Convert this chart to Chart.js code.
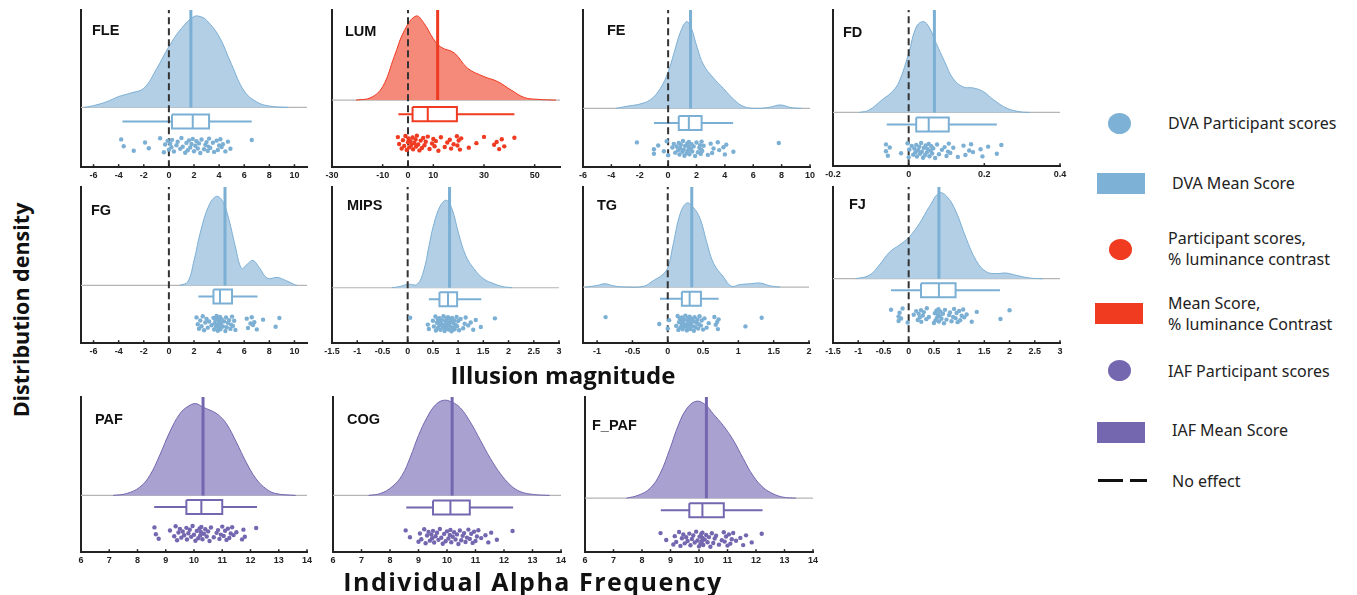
<!DOCTYPE html>
<html>
<head>
<meta charset="utf-8">
<script src="https://cdn.jsdelivr.net/npm/chart.js@4.4.1/dist/chart.umd.min.js"></script>
<style>
body { margin: 0; background: #fff; }
#wrap { position: relative; width: 1357px; height: 595px; overflow: hidden; font-family: "Liberation Sans", Arial, sans-serif; }
#wrap canvas { position: absolute; }
.lab { position: absolute; font-weight: bold; font-size: 14.5px; line-height: 14px; color: #111; }
.ttl { position: absolute; font-family: "Open Sans", sans-serif; font-weight: 700; font-size: 21.5px; color: #111; white-space: nowrap; transform: translate(-50%, -50%); }
.lg { position: absolute; font-family: "Noto Sans", sans-serif; font-size: 16px; line-height: 21px; color: #222; white-space: nowrap; }
.sw { position: absolute; }
</style>
</head>
<body>
<div id="wrap"></div>
<script>
// jitter used to spread the participant dots vertically (0..1)
const JITTER = [0.12,0.55,0.83,0.31,0.67,0.05,0.92,0.44,0.21,0.76,0.38,0.61,0.15,0.88,0.49,0.27,0.71,0.03,0.58,0.95,0.34,0.8,0.18,0.63,0.41,0.09,0.86,0.52,0.24,0.69,0.37,0.97,0.13,0.74,0.46,0.29,0.84,0.57,0.07,0.65,0.33,0.9,0.2,0.78,0.5,0.11,0.6,0.42,0.87,0.26,0.7,0.16];

// FLE
const FLE_X = [-6.7,-6,-5,-4,-3.5,-3,-2,-1,0,1,2,2.5,3,4,5,6,7,8,9.5];
const FLE_D = [0,0.02,0.06,0.12,0.14,0.16,0.21,0.42,0.67,0.87,1,1,0.96,0.78,0.47,0.18,0.06,0.015,0];
const FLE_BOX = [-3.7,0.25,1.9,3.2,6.6];
const FLE_MEAN = 1.75;
const FLE_SCORES = [-3.8,-3.6,-2.8,-1.9,-1.6,-0.7,-0.4,-0.3,-0.1,0,0.1,0.2,0.25,0.4,0.6,0.7,0.9,1,1.1,1.3,1.4,1.5,1.6,1.7,1.8,1.9,2,2.1,2.2,2.3,2.4,2.5,2.6,2.8,2.9,3,3.1,3.15,3.2,3.3,3.5,3.6,3.8,3.9,4,4.1,4.2,4.3,4.5,4.7,4.9,6.6];
const FLE_TICKS = [-6,-4,-2,0,2,4,6,8,10];

// LUM
const LUM_X = [-20.5,-14.6,-10,-5.4,-1.4,3.2,6.4,10,13,18.3,23.5,30,35.4,40.7,46,51,58.4];
const LUM_D = [0,0.03,0.16,0.52,0.83,1,0.91,0.73,0.63,0.56,0.38,0.28,0.22,0.12,0.03,0.01,0];
const LUM_BOX = [-3.8,1.8,7.8,19.3,42];
const LUM_MEAN = 11.7;
const LUM_SCORES = [-4,-3.5,-2.5,-2,-1.5,-1,-0.5,0,0.2,0.5,1,1.3,1.8,2,2.5,3,3.2,3.5,4,4.5,5,5.5,6,6.5,7,7.8,8.5,9.5,10,10.5,11,12,13,14.5,15.5,16.5,17,18,19.3,19.5,20,20.5,21,24,27,30,34,35,36,37,38,42];
const LUM_TICKS = [-30,-10,0,10,30,50];

// FE
const FE_X = [-3.7,-2.7,-2,-1.25,-0.55,0,0.4,0.87,1.3,1.6,2.05,2.5,3.2,3.9,4.65,5.35,6.3,7.2,7.9,8.65,9.4];
const FE_D = [0,0.03,0.05,0.1,0.23,0.42,0.63,0.88,1,0.94,0.7,0.5,0.35,0.23,0.1,0.02,0,0.015,0.04,0.01,0];
const FE_BOX = [-1,0.75,1.46,2.36,4.58];
const FE_MEAN = 1.58;
const FE_SCORES = [-2.2,-1,-1,-0.7,-0.3,-0.1,0,0.3,0.4,0.5,0.6,0.7,0.75,0.8,0.85,0.9,1,1.05,1.1,1.15,1.2,1.3,1.35,1.4,1.45,1.46,1.5,1.6,1.65,1.7,1.8,1.9,2,2.1,2.2,2.25,2.3,2.33,2.36,2.4,2.5,2.8,3,3.1,3.2,3.5,3.6,3.9,4,4.1,4.6,7.8];
const FE_TICKS = [-6,-4,-2,0,2,4,6,8,10];

// FD
const FD_X = [-0.13,-0.105,-0.07,-0.043,-0.025,0,0.02,0.039,0.055,0.073,0.095,0.117,0.144,0.17,0.197,0.224,0.26,0.295,0.32];
const FD_D = [0,0.025,0.14,0.23,0.34,0.65,0.94,1,0.93,0.76,0.56,0.375,0.28,0.27,0.23,0.14,0.045,0.007,0];
const FD_BOX = [-0.058,0.02,0.053,0.106,0.233];
const FD_MEAN = 0.068;
const FD_SCORES = [-0.06,-0.06,-0.055,-0.05,-0.02,-0.003,0,0.002,0.008,0.012,0.015,0.018,0.02,0.022,0.025,0.028,0.03,0.033,0.035,0.038,0.04,0.043,0.045,0.048,0.05,0.053,0.055,0.058,0.06,0.062,0.065,0.07,0.075,0.08,0.088,0.095,0.1,0.104,0.106,0.11,0.118,0.13,0.145,0.15,0.16,0.165,0.17,0.19,0.195,0.21,0.233,0.245];
const FD_TICKS = [-0.2,0,0.2,0.4];

// FG
const FG_X = [0.85,1.5,2,2.55,3.2,3.8,4.3,4.8,5.3,5.8,6.25,6.7,7.2,7.85,8.65,9.3,10,10.2];
const FG_D = [0,0.04,0.28,0.62,0.9,1,0.94,0.73,0.43,0.19,0.24,0.28,0.2,0.08,0.09,0.056,0.01,0];
const FG_BOX = [2.35,3.55,4.07,5.03,7.06];
const FG_MEAN = 4.47;
const FG_SCORES = [2.2,2.3,2.4,2.5,2.6,2.7,2.8,2.9,3,3.1,3.2,3.4,3.55,3.6,3.65,3.7,3.75,3.8,3.85,3.9,3.95,4,4,4.02,4.05,4.07,4.1,4.15,4.2,4.3,4.4,4.5,4.55,4.6,4.7,4.8,4.9,4.95,5.03,5.1,5.2,5.3,6.2,6.3,6.5,6.6,6.7,6.8,7,7.5,8.5,8.8];
const FG_TICKS = [-6,-4,-2,0,2,4,6,8,10];

// MIPS
const MIPS_X = [-0.31,-0.15,0,0.19,0.32,0.42,0.52,0.65,0.77,0.88,1.01,1.15,1.31,1.51,1.71,1.87,2.07];
const MIPS_D = [0,0.015,0.04,0.04,0.2,0.47,0.73,0.94,1,0.9,0.62,0.37,0.22,0.1,0.046,0.015,0];
const MIPS_BOX = [0.42,0.63,0.8,0.98,1.46];
const MIPS_MEAN = 0.83;
const MIPS_SCORES = [0.05,0.4,0.42,0.5,0.52,0.55,0.56,0.58,0.6,0.6,0.62,0.63,0.63,0.65,0.66,0.68,0.7,0.71,0.72,0.73,0.75,0.76,0.77,0.78,0.79,0.8,0.81,0.82,0.84,0.85,0.86,0.87,0.88,0.9,0.91,0.92,0.93,0.95,0.97,0.98,1,1.02,1.05,1.1,1.13,1.15,1.2,1.25,1.3,1.35,1.45,1.73];
const MIPS_TICKS = [-1.5,-1,-0.5,0,0.5,1,1.5,2,2.5,3];

// TG
const TG_X = [-1.17,-1,-0.89,-0.77,-0.58,-0.34,-0.2,-0.085,0,0.08,0.175,0.27,0.36,0.46,0.55,0.65,0.79,0.9,1.02,1.17,1.31,1.45,1.59];
const TG_D = [0,0.02,0.04,0.015,0,0.01,0.08,0.14,0.23,0.52,0.87,1,0.95,0.81,0.54,0.28,0.12,0.01,0.03,0.04,0.048,0.015,0];
const TG_BOX = [-0.11,0.2,0.31,0.47,0.72];
const TG_MEAN = 0.34;
const TG_SCORES = [-0.88,-0.12,0,0.02,0.12,0.14,0.15,0.16,0.17,0.18,0.19,0.2,0.2,0.21,0.22,0.23,0.24,0.25,0.26,0.27,0.28,0.28,0.29,0.3,0.3,0.31,0.32,0.33,0.34,0.35,0.36,0.37,0.38,0.39,0.4,0.42,0.43,0.44,0.45,0.47,0.48,0.5,0.52,0.55,0.58,0.66,0.68,0.7,0.71,0.72,1.1,1.33];
const TG_TICKS = [-1,-0.5,0,0.5,1,1.5,2];

// FJ
const FJ_X = [-1.05,-0.78,-0.58,-0.38,-0.19,0,0.21,0.41,0.61,0.77,0.94,1.14,1.34,1.54,1.74,1.93,2.13,2.4,2.66];
const FJ_D = [0,0.04,0.16,0.31,0.39,0.48,0.64,0.84,1,0.95,0.78,0.47,0.21,0.08,0.06,0.066,0.04,0.008,0];
const FJ_BOX = [-0.35,0.245,0.6,0.93,1.81];
const FJ_MEAN = 0.6;
const FJ_SCORES = [-0.35,-0.2,-0.2,-0.18,-0.15,-0.12,-0.02,0.1,0.15,0.18,0.2,0.22,0.245,0.25,0.28,0.3,0.35,0.36,0.4,0.5,0.52,0.53,0.55,0.56,0.58,0.59,0.6,0.62,0.63,0.65,0.68,0.7,0.72,0.75,0.8,0.82,0.85,0.88,0.9,0.93,0.95,0.97,1,1.02,1.05,1.08,1.1,1.15,1.25,1.35,1.82,2];
const FJ_TICKS = [-1.5,-1,-0.5,0,0.5,1,1.5,2,2.5,3];

// PAF
const PAF_X = [7.14,7.61,8.08,8.44,8.79,9.14,9.5,9.79,10.06,10.32,10.56,10.85,11.15,11.5,11.85,12.2,12.56,12.9,13.6];
const PAF_D = [0,0.02,0.09,0.22,0.44,0.69,0.89,0.97,1,0.96,0.93,0.88,0.78,0.58,0.36,0.18,0.07,0.02,0];
const PAF_BOX = [8.59,9.73,10.26,11,12.23];
const PAF_MEAN = 10.32;
const PAF_SCORES = [8.6,8.65,8.75,9.15,9.3,9.35,9.4,9.45,9.5,9.55,9.6,9.65,9.73,9.75,9.8,9.85,9.9,9.95,10,10.05,10.1,10.15,10.2,10.22,10.24,10.26,10.3,10.35,10.4,10.45,10.5,10.55,10.6,10.7,10.8,10.85,10.9,10.95,11,11.05,11.1,11.15,11.2,11.25,11.3,11.35,11.4,11.5,11.7,11.75,11.8,12.2];

// COG
const COG_X = [7.25,7.66,8.07,8.42,8.71,9,9.3,9.59,9.88,10.18,10.47,10.82,11.17,11.52,11.87,12.22,12.57,13.04,13.6];
const COG_D = [0,0.02,0.09,0.21,0.4,0.63,0.82,0.95,1,0.98,0.92,0.77,0.58,0.39,0.23,0.11,0.04,0.01,0];
const COG_BOX = [8.57,9.51,10.12,10.8,12.32];
const COG_MEAN = 10.18;
const COG_SCORES = [8.55,8.7,9,9.05,9.1,9.2,9.25,9.3,9.35,9.4,9.45,9.48,9.51,9.55,9.6,9.65,9.7,9.75,9.8,9.85,9.9,9.95,10,10.05,10.1,10.12,10.15,10.2,10.25,10.3,10.35,10.4,10.45,10.5,10.55,10.6,10.65,10.7,10.75,10.8,10.85,10.9,10.95,11,11.05,11.1,11.2,11.35,11.45,11.55,11.75,12.3];

// F_PAF
const FPAF_X = [7.46,7.87,8.28,8.63,8.98,9.27,9.56,9.89,10.2,10.5,10.85,11.2,11.55,11.9,12.25,12.6,12.95,13.4];
const FPAF_D = [0,0.03,0.1,0.25,0.51,0.75,0.92,1,0.97,0.87,0.75,0.6,0.41,0.23,0.11,0.045,0.01,0];
const FPAF_BOX = [8.66,9.66,10.12,10.87,12.23];
const FPAF_MEAN = 10.26;
const FPAF_SCORES = [8.65,8.85,9.1,9.15,9.2,9.3,9.35,9.4,9.45,9.5,9.55,9.6,9.66,9.7,9.75,9.8,9.85,9.9,9.95,10,10.02,10.05,10.08,10.1,10.11,10.12,10.15,10.2,10.25,10.3,10.35,10.4,10.45,10.5,10.55,10.6,10.7,10.8,10.87,10.9,10.95,11,11.05,11.1,11.15,11.2,11.3,11.45,11.55,11.65,11.85,12.2];

const IAF_TICKS = [6,7,8,9,10,11,12,13,14];

const THEMES = {
  dva: { fill: '#b3cfe6', line: '#7bafd4' },
  lum: { fill: '#f58a7a', line: '#ef3b21' },
  iaf: { fill: '#a9a1d0', line: '#7467b0' }
};

// layout of every panel on the page (pixels)
const PANELS = [
  { name: 'FLE', dx: FLE_X, dy: FLE_D, box: FLE_BOX, mean: FLE_MEAN, scores: FLE_SCORES, ticks: FLE_TICKS, range: [-7, 11], theme: 'dva',
    left: 81, right: 307, top: 10, axis: 167, base: 107.3, peak: 90.7, boxOff: 7, dotOff: 30, zero: true, lx: 92, ly: 23 },
  { name: 'LUM', dx: LUM_X, dy: LUM_D, box: LUM_BOX, mean: LUM_MEAN, scores: LUM_SCORES, ticks: LUM_TICKS, range: [-30, 60], theme: 'lum',
    left: 331.5, right: 559, top: 10, axis: 167, base: 100, peak: 84, boxOff: 7, dotOff: 35, zero: true, lx: 345, ly: 24 },
  { name: 'FE', dx: FE_X, dy: FE_D, box: FE_BOX, mean: FE_MEAN, scores: FE_SCORES, ticks: FE_TICKS, range: [-6, 10], theme: 'dva',
    left: 582.7, right: 809.5, top: 10, axis: 167, base: 108.3, peak: 86.7, boxOff: 7.5, dotOff: 32, zero: true, lx: 607, ly: 23 },
  { name: 'FD', dx: FD_X, dy: FD_D, box: FD_BOX, mean: FD_MEAN, scores: FD_SCORES, ticks: FD_TICKS, range: [-0.2, 0.4], theme: 'dva',
    left: 833.3, right: 1060.5, top: 10, axis: 166, base: 112.3, peak: 90.7, boxOff: 5, dotOff: 30, zero: true, lx: 843, ly: 25 },
  { name: 'FG', dx: FG_X, dy: FG_D, box: FG_BOX, mean: FG_MEAN, scores: FG_SCORES, ticks: FG_TICKS, range: [-7, 11], theme: 'dva',
    left: 81, right: 307, top: 186.7, axis: 342.7, base: 285, peak: 89, boxOff: 4, dotOff: 30, zero: true, lx: 91, ly: 203 },
  { name: 'MIPS', dx: MIPS_X, dy: MIPS_D, box: MIPS_BOX, mean: MIPS_MEAN, scores: MIPS_SCORES, ticks: MIPS_TICKS, range: [-1.5, 3], theme: 'dva',
    left: 331.7, right: 558.3, top: 186.7, axis: 342.7, base: 287.3, peak: 87.3, boxOff: 4.5, dotOff: 28, zero: true, lx: 347, ly: 198 },
  { name: 'TG', dx: TG_X, dy: TG_D, box: TG_BOX, mean: TG_MEAN, scores: TG_SCORES, ticks: TG_TICKS, range: [-1.2, 2], theme: 'dva',
    left: 582.7, right: 809, top: 186.7, axis: 342.7, base: 286.7, peak: 84, boxOff: 4.5, dotOff: 28, zero: true, lx: 597, ly: 198 },
  { name: 'FJ', dx: FJ_X, dy: FJ_D, box: FJ_BOX, mean: FJ_MEAN, scores: FJ_SCORES, ticks: FJ_TICKS, range: [-1.5, 3], theme: 'dva',
    left: 833.3, right: 1060.7, top: 186.7, axis: 342.7, base: 278.3, peak: 85.7, boxOff: 4.5, dotOff: 29, zero: true, lx: 849, ly: 197 },
  { name: 'PAF', dx: PAF_X, dy: PAF_D, box: PAF_BOX, mean: PAF_MEAN, scores: PAF_SCORES, ticks: IAF_TICKS, range: [6, 14], theme: 'iaf',
    left: 81, right: 307.3, top: 396.7, axis: 551.7, base: 495, peak: 91.7, boxOff: 4.5, dotOff: 30, zero: false, lx: 95, ly: 412 },
  { name: 'COG', dx: COG_X, dy: COG_D, box: COG_BOX, mean: COG_MEAN, scores: COG_SCORES, ticks: IAF_TICKS, range: [6, 14], theme: 'iaf',
    left: 332.7, right: 560.7, top: 396.7, axis: 551.7, base: 495, peak: 95, boxOff: 5, dotOff: 33, zero: false, lx: 347, ly: 412 },
  { name: 'F_PAF', dx: FPAF_X, dy: FPAF_D, box: FPAF_BOX, mean: FPAF_MEAN, scores: FPAF_SCORES, ticks: IAF_TICKS, range: [6, 14], theme: 'iaf',
    left: 585, right: 813.3, top: 396.7, axis: 551.7, base: 497.7, peak: 96.7, boxOff: 5, dotOff: 33, zero: false, lx: 592, ly: 418 }
];

const BOX_H = 14, DOT_BAND = 16;

// small tick marks pointing up into the plot
const innerTicks = {
  id: 'innerTicks',
  afterDraw(chart) {
    const sx = chart.scales.x, ctx = chart.ctx, y0 = chart.chartArea.bottom;
    ctx.save();
    ctx.strokeStyle = '#222';
    ctx.lineWidth = 1.5;
    sx.ticks.forEach(t => {
      const px = sx.getPixelForValue(t.value);
      ctx.beginPath();
      ctx.moveTo(px, y0);
      ctx.lineTo(px, y0 - 3);
      ctx.stroke();
    });
    ctx.restore();
  }
};

function config(p) {
  const th = THEMES[p.theme];
  const above = p.base - p.top, below = p.axis - p.base;
  const [wmin, q1, med, q3, wmax] = p.box;
  const bt = -p.boxOff, bb = -p.boxOff - BOX_H, bm = (bt + bb) / 2;
  const boxStyle = { borderColor: th.line, borderWidth: 2, fill: false, order: 4 };

  const datasets = [
    { data: [{ x: p.range[0], y: 0 }, { x: p.range[1], y: 0 }], borderColor: '#b5b5b5', borderWidth: 1.2, order: 9 },
    { data: p.dx.map((x, i) => ({ x, y: p.dy[i] * p.peak })), borderColor: th.line, backgroundColor: th.fill,
      borderWidth: 1, fill: 'origin', tension: 0.4, order: 8 },
    { data: [{ x: p.mean, y: 0 }, { x: p.mean, y: above }], borderColor: th.line, borderWidth: 3, order: 7 },
    Object.assign({ data: [{ x: wmin, y: bm }, { x: q1, y: bm }] }, boxStyle),
    Object.assign({ data: [{ x: q3, y: bm }, { x: wmax, y: bm }] }, boxStyle),
    Object.assign({ data: [{ x: q1, y: bt }, { x: q3, y: bt }, { x: q3, y: bb }, { x: q1, y: bb }, { x: q1, y: bt }] }, boxStyle),
    Object.assign({ data: [{ x: med, y: bt }, { x: med, y: bb }] }, boxStyle),
    { type: 'scatter', data: p.scores.map((v, i) => ({ x: v, y: -(p.dotOff + JITTER[i] * DOT_BAND) })),
      pointRadius: 2.2, backgroundColor: th.line, borderWidth: 0, order: 1 }
  ];
  if (p.zero) {
    datasets.push({ data: [{ x: 0, y: -below }, { x: 0, y: above }], borderColor: '#333', borderWidth: 2,
      borderDash: [7, 4], order: 2 });
  }

  return {
    type: 'line',
    data: { datasets },
    options: {
      responsive: false,
      animation: false,
      events: [],
      layout: { padding: { left: 14, right: 14, top: 4, bottom: 2 } },
      plugins: { legend: { display: false }, tooltip: { enabled: false } },
      elements: { point: { radius: 0 }, line: { tension: 0 } },
      scales: {
        x: {
          type: 'linear', min: p.range[0], max: p.range[1],
          afterBuildTicks: ax => { ax.ticks = p.ticks.map(v => ({ value: v })); },
          ticks: { callback: v => String(v), autoSkip: false, maxRotation: 0, padding: 3, color: '#222',
            font: { family: 'Liberation Sans', size: 9, weight: 'bold' } },
          grid: { display: false, drawTicks: false },
          border: { display: true, color: '#222', width: 2 }
        },
        y: {
          min: -below, max: above,
          ticks: { display: false },
          grid: { display: false, drawTicks: false },
          border: { display: true, color: '#222', width: 2 }
        }
      }
    },
    plugins: [innerTicks]
  };
}

const wrap = document.getElementById('wrap');

function setSize(cv, w, h) {
  cv.width = w; cv.height = h;
  cv.style.width = w + 'px'; cv.style.height = h + 'px';
}

PANELS.forEach(p => {
  const cv = document.createElement('canvas');
  wrap.appendChild(cv);
  const tw = p.right - p.left, th = p.axis - p.top;
  let W = Math.round(tw + 40), H = Math.round(th + 40);
  setSize(cv, W, H);
  let chart = new Chart(cv, config(p));
  let ca = chart.chartArea;
  W = Math.round(W + tw - (ca.right - ca.left));
  H = Math.round(H + th - (ca.bottom - ca.top));
  chart.destroy();
  setSize(cv, W, H);
  chart = new Chart(cv, config(p));
  ca = chart.chartArea;
  cv.style.left = (p.left - ca.left) + 'px';
  cv.style.top = (p.top - ca.top) + 'px';

  const lab = document.createElement('div');
  lab.className = 'lab';
  lab.textContent = p.name;
  lab.style.left = p.lx + 'px';
  lab.style.top = p.ly + 'px';
  wrap.appendChild(lab);
});

function addDiv(cls, html, css) {
  const d = document.createElement('div');
  d.className = cls;
  d.innerHTML = html;
  Object.assign(d.style, css);
  wrap.appendChild(d);
  return d;
}

// axis titles
addDiv('ttl', 'Distribution density', { left: '20px', top: '310px', transform: 'translate(-50%,-50%) rotate(-90deg)' });
addDiv('ttl', 'Illusion magnitude', { left: '563px', top: '374px', fontSize: '24px' });
addDiv('ttl', 'Individual Alpha Frequency', { left: '533px', top: '581px', fontSize: '25px', letterSpacing: '1.5px' });

// legend
const LEGEND = [
  { kind: 'dot', color: '#7eb1d6', x: 1108, y: 113, text: 'DVA Participant scores', tx: 1168, ty: 113 },
  { kind: 'bar', color: '#7eb1d6', x: 1097, y: 173, text: 'DVA Mean Score', tx: 1172, ty: 173 },
  { kind: 'dot', color: '#f03b20', x: 1109, y: 239, text: 'Participant scores,<br>% luminance contrast', tx: 1168, ty: 228 },
  { kind: 'bar', color: '#f03b20', x: 1095, y: 303, text: 'Mean Score,<br>% luminance Contrast', tx: 1168, ty: 293 },
  { kind: 'dot', color: '#7467b0', x: 1108, y: 360, text: 'IAF Participant scores', tx: 1168, ty: 361 },
  { kind: 'bar', color: '#7467b0', x: 1097, y: 422, text: 'IAF Mean Score', tx: 1172, ty: 420 },
  { kind: 'dash', color: '#111', x: 1098, y: 479, text: 'No effect', tx: 1172, ty: 471 }
];
LEGEND.forEach(e => {
  if (e.kind === 'dot') {
    addDiv('sw', '', { left: e.x + 'px', top: e.y + 'px', width: '23px', height: '21px', borderRadius: '50%', background: e.color });
  } else if (e.kind === 'bar') {
    addDiv('sw', '', { left: e.x + 'px', top: e.y + 'px', width: '48px', height: '21px', background: e.color });
  } else {
    addDiv('sw', '', { left: e.x + 'px', top: e.y + 'px', width: '25px', height: '3px', background: e.color });
    addDiv('sw', '', { left: (e.x + 32) + 'px', top: e.y + 'px', width: '17px', height: '3px', background: e.color });
  }
  addDiv('lg', e.text, { left: e.tx + 'px', top: e.ty + 'px' });
});
</script>
</body>
</html>
